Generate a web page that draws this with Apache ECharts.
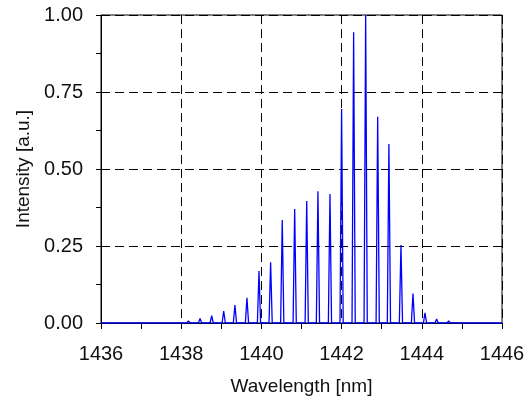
<!DOCTYPE html>
<html>
<head>
<meta charset="utf-8">
<script src="https://cdn.jsdelivr.net/npm/echarts@6/dist/echarts.min.js"></script>
<style>
  html, body { margin: 0; padding: 0; background: #fff; }
  #chart { width: 529px; height: 404px; }
</style>
</head>
<body>
<div id="chart"></div>
<script>
// peak centres [nm] and peak heights [a.u.]
var peakWavelength = [
  1436.43, 1436.72, 1437.00, 1437.30, 1437.60, 1437.89, 1438.18, 1438.47,
  1438.76, 1439.06, 1439.34, 1439.64, 1439.94, 1440.23, 1440.52, 1440.83,
  1441.13, 1441.41, 1441.71, 1442.00, 1442.30, 1442.60, 1442.90, 1443.18,
  1443.48, 1443.78, 1444.08, 1444.37, 1444.67, 1444.99, 1445.27, 1445.57
];
var peakIntensity = [
  0.002, 0.002, 0.002, 0.002, 0.003, 0.005, 0.007, 0.015,
  0.024, 0.039, 0.058, 0.082, 0.169, 0.197, 0.334, 0.370,
  0.396, 0.428, 0.419, 0.695, 0.944, 1.000, 0.670, 0.581,
  0.253, 0.096, 0.033, 0.013, 0.0065, 0.003, 0.002, 0.002
];
var xTicks = { min: 1436, max: 1446, step: 2 };
var yTicks = { min: 0, max: 1, step: 0.25 };

var lineHalfWidth = 0.04; // drawn width of each spectral line

var spectrum = [[xTicks.min, 0]];
for (var i = 0; i < peakWavelength.length; i++) {
  spectrum.push([peakWavelength[i] - lineHalfWidth, 0]);
  spectrum.push([peakWavelength[i], peakIntensity[i]]);
  spectrum.push([peakWavelength[i] + lineHalfWidth, 0]);
}
spectrum.push([xTicks.max, 0]);

var font = "'Liberation Sans', Arial, sans-serif";
var dashed = { show: true, lineStyle: { color: '#000', type: [9, 5], width: 1 } };

var myChart = echarts.init(document.getElementById('chart'), null, { renderer: 'canvas' });
var option = {
  animation: false,
  backgroundColor: '#fff',
  grid: {
    left: 101, right: 27, top: 15, bottom: 81,
    show: true, borderColor: '#000', borderWidth: 1
  },
  xAxis: {
    type: 'value',
    min: xTicks.min, max: xTicks.max, interval: xTicks.step,
    name: 'Wavelength [nm]',
    nameLocation: 'middle',
    nameGap: 54,
    nameTextStyle: { color: '#111', fontSize: 19, fontFamily: font },
    axisLine: { lineStyle: { color: '#000', width: 1 } },
    axisTick: { show: true, inside: false, length: 6, lineStyle: { color: '#000' } },
    minorTick: { show: true, splitNumber: 2, length: 6, lineStyle: { color: '#000' } },
    axisLabel: {
      color: '#111', fontSize: 20, fontFamily: font, margin: 21,
      formatter: function (v) { return String(v); }
    },
    splitLine: dashed
  },
  yAxis: {
    type: 'value',
    min: yTicks.min, max: yTicks.max, interval: yTicks.step,
    name: 'Intensity [a.u.]',
    nameLocation: 'middle',
    nameGap: 67,
    nameTextStyle: { color: '#111', fontSize: 19, fontFamily: font },
    axisLine: { show: true, lineStyle: { color: '#000', width: 1 } },
    axisTick: { show: true, inside: false, length: 5, lineStyle: { color: '#000' } },
    minorTick: { show: true, splitNumber: 2, length: 5, lineStyle: { color: '#000' } },
    axisLabel: {
      color: '#111', fontSize: 20, fontFamily: font, margin: 18,
      formatter: function (v) { return v.toFixed(2); }
    },
    splitLine: dashed
  },
  series: [
    {
      type: 'line',
      data: spectrum,
      showSymbol: false,
      symbol: 'none',
      lineStyle: { color: '#0000ff', width: 1.3 },
      z: 3
    }
  ]
};
option && myChart.setOption(option);
</script>
</body>
</html>
